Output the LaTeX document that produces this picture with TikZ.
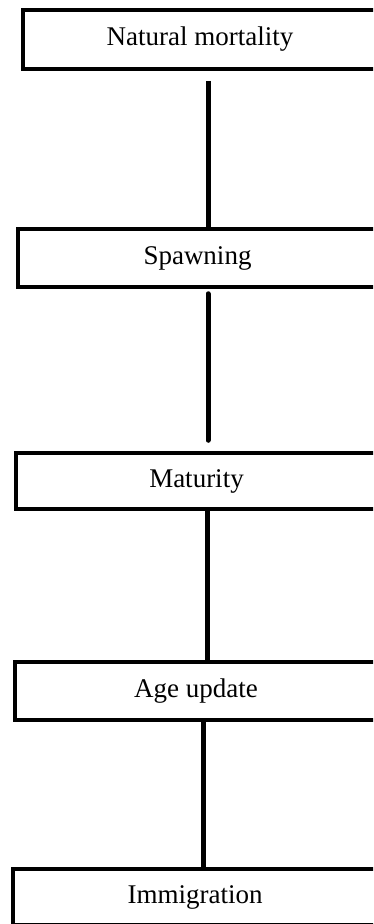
\documentclass[tikz,border=0pt]{standalone}
\usepackage{fontspec}
\setmainfont{Liberation Serif}
\usepackage{tikz}
\usetikzlibrary{calc}

\begin{document}
\begin{tikzpicture}[
    x=1pt, y=1pt,
    stagebox/.style={rectangle, draw=black, line width=3.5pt, fill=white, minimum width=354pt, minimum height=58pt, inner sep=0pt, font=\fontsize{27}{32}\selectfont},
    link/.style={line width=5pt, black},
]
\useasboundingbox (0,0) rectangle (373,-924);
\clip (0,0) rectangle (373,-924);

% 阶段方框
\node[stagebox, minimum height=59pt] (nm) at (200,-39.5) {Natural mortality};
\node[stagebox, minimum width=359pt] (sp) at (197.5,-258) {Spawning};
\node[stagebox, minimum width=361pt, minimum height=56pt] (ma) at (196.5,-481) {Maturity};
\node[stagebox, minimum width=362pt] (au) at (196,-691) {Age update};
\node[stagebox, minimum width=364pt, minimum height=56pt] (im) at (195,-897) {Immigration};

% 连接线
\draw[link, shorten <=10pt] ([xshift=8pt]nm.south) -- ([xshift=8pt]nm.south |- sp.north);
\draw[link, shorten <=5pt, shorten >=11pt, line cap=round] ([xshift=10.5pt]sp.south) -- ([xshift=10.5pt]sp.south |- ma.north);
\draw[link] ([xshift=10.5pt]ma.south) -- ([xshift=10.5pt]ma.south |- au.north);
\draw[link] ([xshift=7pt]au.south) -- ([xshift=7pt]au.south |- im.north);

\end{tikzpicture}
\end{document}
